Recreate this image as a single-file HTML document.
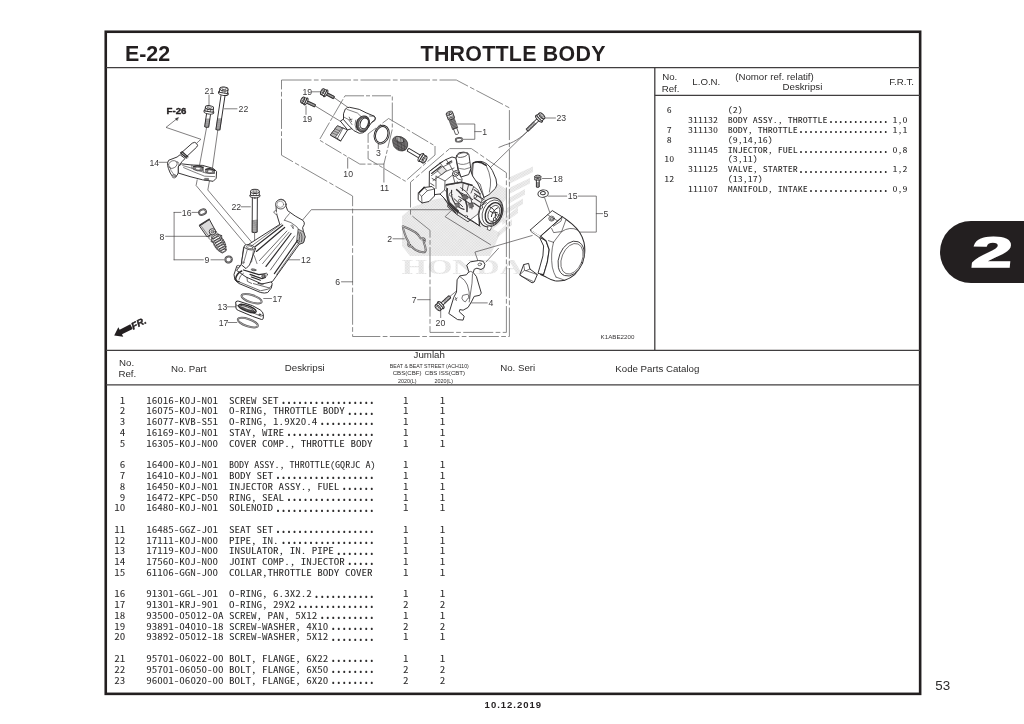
<!DOCTYPE html>
<html lang="id">
<head>
<meta charset="utf-8">
<title>E-22 THROTTLE BODY</title>
<style>
html,body{margin:0;padding:0;background:#fff;}
body{width:1024px;height:724px;overflow:hidden;position:relative;}
svg{position:absolute;left:0;top:0;display:block;will-change:transform;}
text{white-space:pre;}
</style>
</head>
<body>
<svg width="1024" height="724" viewBox="0 0 1024 724">
<rect width="1024" height="724" fill="#fff"/>
<g id="frame" fill="none" stroke="#231f20">
<rect x="105.75" y="31.75" width="814.4" height="662.1" stroke-width="2.6"/>
<g stroke="#403e3f" stroke-width="1.3">
<path d="M106 67.7H920"/>
<path d="M654.8 67.7V350.4"/>
<path d="M654.8 95.3H920"/>
<path d="M106 350.4H920"/>
<path d="M106 384.9H920"/>
</g></g>
<g id="titles" font-family="'Liberation Sans', Arial, sans-serif" font-weight="bold" fill="#231f20">
<text x="124.9" y="61.1" font-size="21.4">E-22</text>
<text x="420.6" y="61.2" font-size="21.4" letter-spacing="0.25">THROTTLE BODY</text>
<text x="484.6" y="708.1" font-size="9.5" letter-spacing="1.0">10.12.2019</text>
</g>
<text x="935.2" y="690.1" font-family="'Liberation Sans', Arial, sans-serif" font-size="13.4" fill="#2e2d2d">53</text>
<g id="tab">
<path d="M1024 221H971a31 31 0 0 0 0 62H1024Z" fill="#231f20"/>
<text transform="translate(970.4 267.2) scale(1.72 1) skewX(-3)" font-family="'Liberation Sans', Arial, sans-serif" font-weight="bold" font-size="42.6" fill="#fff" stroke="#fff" stroke-width="1.7" stroke-linejoin="miter">2</text>
</g>
<g id="hdr" font-family="'Liberation Sans', Arial, sans-serif" font-size="9.7" fill="#2e2d2d">
<text x="662.2" y="80.4">No.</text>
<text x="661.7" y="91.5">Ref.</text>
<text x="692.3" y="85.3">L.O.N.</text>
<text x="735.2" y="79.8">(Nomor ref. relatif)</text>
<text x="782.5" y="90.1">Deskripsi</text>
<text x="889.2" y="85.3">F.R.T.</text>
<text x="119.0" y="366.0">No.</text>
<text x="118.4" y="377.2">Ref.</text>
<text x="171.0" y="371.8">No. Part</text>
<text x="284.8" y="370.9">Deskripsi</text>
<text x="413.6" y="358.2">Jumlah</text>
<text x="500.2" y="370.9">No. Seri</text>
<text x="615.3" y="371.8">Kode Parts Catalog</text>
</g>
<g id="hdr-small" font-family="'Liberation Sans', Arial, sans-serif" font-size="5.4" fill="#2e2d2d" text-anchor="middle">
<text x="429.3" y="367.9" textLength="79" lengthAdjust="spacingAndGlyphs">BEAT &amp; BEAT STREET (ACH110)</text>
<text x="428.9" y="375.3" textLength="72.4" lengthAdjust="spacingAndGlyphs">CBS(CBF)  CBS ISS(CBT)</text>
<text x="407.2" y="382.6">2020(L)</text>
<text x="443.7" y="382.6">2020(L)</text>
</g>
<g id="parts" font-family="'Noto Sans Mono CJK JP', 'DejaVu Sans Mono', 'Liberation Mono', monospace" font-size="8.9" fill="#2e2d2d">
<text x="125.3" y="403.6" text-anchor="end" textLength="5.52" lengthAdjust="spacingAndGlyphs">1</text>
<text x="146.2" y="403.6" textLength="71.81" lengthAdjust="spacingAndGlyphs">16016-K0J-N01</text>
<text x="228.9" y="403.6" textLength="49.72" lengthAdjust="spacingAndGlyphs">SCREW SET</text>
<text x="280.72" y="403.9" textLength="93.91" lengthAdjust="spacingAndGlyphs" font-weight="bold" font-size="11.6">.................</text>
<text x="405.8" y="403.6" text-anchor="middle" textLength="5.52" lengthAdjust="spacingAndGlyphs">1</text>
<text x="442.6" y="403.6" text-anchor="middle" textLength="5.52" lengthAdjust="spacingAndGlyphs">1</text>
<text x="125.3" y="414.37" text-anchor="end" textLength="5.52" lengthAdjust="spacingAndGlyphs">2</text>
<text x="146.2" y="414.37" textLength="71.81" lengthAdjust="spacingAndGlyphs">16075-K0J-N01</text>
<text x="228.9" y="414.37" textLength="116.0" lengthAdjust="spacingAndGlyphs">O-RING, THROTTLE BODY</text>
<text x="347.0" y="414.67" textLength="27.62" lengthAdjust="spacingAndGlyphs" font-weight="bold" font-size="11.6">.....</text>
<text x="405.8" y="414.37" text-anchor="middle" textLength="5.52" lengthAdjust="spacingAndGlyphs">1</text>
<text x="442.6" y="414.37" text-anchor="middle" textLength="5.52" lengthAdjust="spacingAndGlyphs">1</text>
<text x="125.3" y="425.13" text-anchor="end" textLength="5.52" lengthAdjust="spacingAndGlyphs">3</text>
<text x="146.2" y="425.13" textLength="71.81" lengthAdjust="spacingAndGlyphs">16077-KVB-S51</text>
<text x="228.9" y="425.13" textLength="88.38" lengthAdjust="spacingAndGlyphs">O-RING, 1.9X20.4</text>
<text x="319.38" y="425.43" textLength="55.24" lengthAdjust="spacingAndGlyphs" font-weight="bold" font-size="11.6">..........</text>
<text x="405.8" y="425.13" text-anchor="middle" textLength="5.52" lengthAdjust="spacingAndGlyphs">1</text>
<text x="442.6" y="425.13" text-anchor="middle" textLength="5.52" lengthAdjust="spacingAndGlyphs">1</text>
<text x="125.3" y="435.9" text-anchor="end" textLength="5.52" lengthAdjust="spacingAndGlyphs">4</text>
<text x="146.2" y="435.9" textLength="71.81" lengthAdjust="spacingAndGlyphs">16169-K0J-N01</text>
<text x="228.9" y="435.9" textLength="55.24" lengthAdjust="spacingAndGlyphs">STAY, WIRE</text>
<text x="286.24" y="436.2" textLength="88.38" lengthAdjust="spacingAndGlyphs" font-weight="bold" font-size="11.6">................</text>
<text x="405.8" y="435.9" text-anchor="middle" textLength="5.52" lengthAdjust="spacingAndGlyphs">1</text>
<text x="442.6" y="435.9" text-anchor="middle" textLength="5.52" lengthAdjust="spacingAndGlyphs">1</text>
<text x="125.3" y="446.67" text-anchor="end" textLength="5.52" lengthAdjust="spacingAndGlyphs">5</text>
<text x="146.2" y="446.67" textLength="71.81" lengthAdjust="spacingAndGlyphs">16305-K0J-N00</text>
<text x="228.9" y="446.67" textLength="143.62" lengthAdjust="spacingAndGlyphs">COVER COMP., THROTTLE BODY</text>
<text x="405.8" y="446.67" text-anchor="middle" textLength="5.52" lengthAdjust="spacingAndGlyphs">1</text>
<text x="442.6" y="446.67" text-anchor="middle" textLength="5.52" lengthAdjust="spacingAndGlyphs">1</text>
<text x="125.3" y="468.2" text-anchor="end" textLength="5.52" lengthAdjust="spacingAndGlyphs">6</text>
<text x="146.2" y="468.2" textLength="71.81" lengthAdjust="spacingAndGlyphs">16400-K0J-N01</text>
<text x="228.9" y="468.2" textLength="146.6" lengthAdjust="spacingAndGlyphs">BODY ASSY., THROTTLE(GQRJC A)</text>
<text x="405.8" y="468.2" text-anchor="middle" textLength="5.52" lengthAdjust="spacingAndGlyphs">1</text>
<text x="442.6" y="468.2" text-anchor="middle" textLength="5.52" lengthAdjust="spacingAndGlyphs">1</text>
<text x="125.3" y="478.97" text-anchor="end" textLength="5.52" lengthAdjust="spacingAndGlyphs">7</text>
<text x="146.2" y="478.97" textLength="71.81" lengthAdjust="spacingAndGlyphs">16410-K0J-N01</text>
<text x="228.9" y="478.97" textLength="44.19" lengthAdjust="spacingAndGlyphs">BODY SET</text>
<text x="275.19" y="479.27" textLength="99.43" lengthAdjust="spacingAndGlyphs" font-weight="bold" font-size="11.6">..................</text>
<text x="405.8" y="478.97" text-anchor="middle" textLength="5.52" lengthAdjust="spacingAndGlyphs">1</text>
<text x="442.6" y="478.97" text-anchor="middle" textLength="5.52" lengthAdjust="spacingAndGlyphs">1</text>
<text x="125.3" y="489.74" text-anchor="end" textLength="5.52" lengthAdjust="spacingAndGlyphs">8</text>
<text x="146.2" y="489.74" textLength="71.81" lengthAdjust="spacingAndGlyphs">16450-K0J-N01</text>
<text x="228.9" y="489.74" textLength="110.48" lengthAdjust="spacingAndGlyphs">INJECTOR ASSY., FUEL</text>
<text x="341.48" y="490.04" textLength="33.14" lengthAdjust="spacingAndGlyphs" font-weight="bold" font-size="11.6">......</text>
<text x="405.8" y="489.74" text-anchor="middle" textLength="5.52" lengthAdjust="spacingAndGlyphs">1</text>
<text x="442.6" y="489.74" text-anchor="middle" textLength="5.52" lengthAdjust="spacingAndGlyphs">1</text>
<text x="125.3" y="500.5" text-anchor="end" textLength="5.52" lengthAdjust="spacingAndGlyphs">9</text>
<text x="146.2" y="500.5" textLength="71.81" lengthAdjust="spacingAndGlyphs">16472-KPC-D50</text>
<text x="228.9" y="500.5" textLength="55.24" lengthAdjust="spacingAndGlyphs">RING, SEAL</text>
<text x="286.24" y="500.8" textLength="88.38" lengthAdjust="spacingAndGlyphs" font-weight="bold" font-size="11.6">................</text>
<text x="405.8" y="500.5" text-anchor="middle" textLength="5.52" lengthAdjust="spacingAndGlyphs">1</text>
<text x="442.6" y="500.5" text-anchor="middle" textLength="5.52" lengthAdjust="spacingAndGlyphs">1</text>
<text x="125.3" y="511.27" text-anchor="end" textLength="11.05" lengthAdjust="spacingAndGlyphs">10</text>
<text x="146.2" y="511.27" textLength="71.81" lengthAdjust="spacingAndGlyphs">16480-K0J-N01</text>
<text x="228.9" y="511.27" textLength="44.19" lengthAdjust="spacingAndGlyphs">SOLENOID</text>
<text x="275.19" y="511.57" textLength="99.43" lengthAdjust="spacingAndGlyphs" font-weight="bold" font-size="11.6">..................</text>
<text x="405.8" y="511.27" text-anchor="middle" textLength="5.52" lengthAdjust="spacingAndGlyphs">1</text>
<text x="442.6" y="511.27" text-anchor="middle" textLength="5.52" lengthAdjust="spacingAndGlyphs">1</text>
<text x="125.3" y="532.8" text-anchor="end" textLength="11.05" lengthAdjust="spacingAndGlyphs">11</text>
<text x="146.2" y="532.8" textLength="71.81" lengthAdjust="spacingAndGlyphs">16485-GGZ-J01</text>
<text x="228.9" y="532.8" textLength="44.19" lengthAdjust="spacingAndGlyphs">SEAT SET</text>
<text x="275.19" y="533.1" textLength="99.43" lengthAdjust="spacingAndGlyphs" font-weight="bold" font-size="11.6">..................</text>
<text x="405.8" y="532.8" text-anchor="middle" textLength="5.52" lengthAdjust="spacingAndGlyphs">1</text>
<text x="442.6" y="532.8" text-anchor="middle" textLength="5.52" lengthAdjust="spacingAndGlyphs">1</text>
<text x="125.3" y="543.57" text-anchor="end" textLength="11.05" lengthAdjust="spacingAndGlyphs">12</text>
<text x="146.2" y="543.57" textLength="71.81" lengthAdjust="spacingAndGlyphs">17111-K0J-N00</text>
<text x="228.9" y="543.57" textLength="49.72" lengthAdjust="spacingAndGlyphs">PIPE, IN.</text>
<text x="280.72" y="543.87" textLength="93.91" lengthAdjust="spacingAndGlyphs" font-weight="bold" font-size="11.6">.................</text>
<text x="405.8" y="543.57" text-anchor="middle" textLength="5.52" lengthAdjust="spacingAndGlyphs">1</text>
<text x="442.6" y="543.57" text-anchor="middle" textLength="5.52" lengthAdjust="spacingAndGlyphs">1</text>
<text x="125.3" y="554.34" text-anchor="end" textLength="11.05" lengthAdjust="spacingAndGlyphs">13</text>
<text x="146.2" y="554.34" textLength="71.81" lengthAdjust="spacingAndGlyphs">17119-K0J-N00</text>
<text x="228.9" y="554.34" textLength="104.96" lengthAdjust="spacingAndGlyphs">INSULATOR, IN. PIPE</text>
<text x="335.96" y="554.64" textLength="38.67" lengthAdjust="spacingAndGlyphs" font-weight="bold" font-size="11.6">.......</text>
<text x="405.8" y="554.34" text-anchor="middle" textLength="5.52" lengthAdjust="spacingAndGlyphs">1</text>
<text x="442.6" y="554.34" text-anchor="middle" textLength="5.52" lengthAdjust="spacingAndGlyphs">1</text>
<text x="125.3" y="565.11" text-anchor="end" textLength="11.05" lengthAdjust="spacingAndGlyphs">14</text>
<text x="146.2" y="565.11" textLength="71.81" lengthAdjust="spacingAndGlyphs">17560-K0J-N00</text>
<text x="228.9" y="565.11" textLength="116.0" lengthAdjust="spacingAndGlyphs">JOINT COMP., INJECTOR</text>
<text x="347.0" y="565.41" textLength="27.62" lengthAdjust="spacingAndGlyphs" font-weight="bold" font-size="11.6">.....</text>
<text x="405.8" y="565.11" text-anchor="middle" textLength="5.52" lengthAdjust="spacingAndGlyphs">1</text>
<text x="442.6" y="565.11" text-anchor="middle" textLength="5.52" lengthAdjust="spacingAndGlyphs">1</text>
<text x="125.3" y="575.87" text-anchor="end" textLength="11.05" lengthAdjust="spacingAndGlyphs">15</text>
<text x="146.2" y="575.87" textLength="71.81" lengthAdjust="spacingAndGlyphs">61106-GGN-J00</text>
<text x="228.9" y="575.87" textLength="143.62" lengthAdjust="spacingAndGlyphs">COLLAR,THROTTLE BODY COVER</text>
<text x="405.8" y="575.87" text-anchor="middle" textLength="5.52" lengthAdjust="spacingAndGlyphs">1</text>
<text x="442.6" y="575.87" text-anchor="middle" textLength="5.52" lengthAdjust="spacingAndGlyphs">1</text>
<text x="125.3" y="597.41" text-anchor="end" textLength="11.05" lengthAdjust="spacingAndGlyphs">16</text>
<text x="146.2" y="597.41" textLength="71.81" lengthAdjust="spacingAndGlyphs">91301-GGL-J01</text>
<text x="228.9" y="597.41" textLength="82.86" lengthAdjust="spacingAndGlyphs">O-RING, 6.3X2.2</text>
<text x="313.86" y="597.71" textLength="60.76" lengthAdjust="spacingAndGlyphs" font-weight="bold" font-size="11.6">...........</text>
<text x="405.8" y="597.41" text-anchor="middle" textLength="5.52" lengthAdjust="spacingAndGlyphs">1</text>
<text x="442.6" y="597.41" text-anchor="middle" textLength="5.52" lengthAdjust="spacingAndGlyphs">1</text>
<text x="125.3" y="608.17" text-anchor="end" textLength="11.05" lengthAdjust="spacingAndGlyphs">17</text>
<text x="146.2" y="608.17" textLength="71.81" lengthAdjust="spacingAndGlyphs">91301-KRJ-901</text>
<text x="228.9" y="608.17" textLength="66.29" lengthAdjust="spacingAndGlyphs">O-RING, 29X2</text>
<text x="297.29" y="608.47" textLength="77.34" lengthAdjust="spacingAndGlyphs" font-weight="bold" font-size="11.6">..............</text>
<text x="405.8" y="608.17" text-anchor="middle" textLength="5.52" lengthAdjust="spacingAndGlyphs">2</text>
<text x="442.6" y="608.17" text-anchor="middle" textLength="5.52" lengthAdjust="spacingAndGlyphs">2</text>
<text x="125.3" y="618.94" text-anchor="end" textLength="11.05" lengthAdjust="spacingAndGlyphs">18</text>
<text x="146.2" y="618.94" textLength="77.34" lengthAdjust="spacingAndGlyphs">93500-05012-0A</text>
<text x="228.9" y="618.94" textLength="88.38" lengthAdjust="spacingAndGlyphs">SCREW, PAN, 5X12</text>
<text x="319.38" y="619.24" textLength="55.24" lengthAdjust="spacingAndGlyphs" font-weight="bold" font-size="11.6">..........</text>
<text x="405.8" y="618.94" text-anchor="middle" textLength="5.52" lengthAdjust="spacingAndGlyphs">1</text>
<text x="442.6" y="618.94" text-anchor="middle" textLength="5.52" lengthAdjust="spacingAndGlyphs">1</text>
<text x="125.3" y="629.71" text-anchor="end" textLength="11.05" lengthAdjust="spacingAndGlyphs">19</text>
<text x="146.2" y="629.71" textLength="77.34" lengthAdjust="spacingAndGlyphs">93891-04010-18</text>
<text x="228.9" y="629.71" textLength="99.43" lengthAdjust="spacingAndGlyphs">SCREW-WASHER, 4X10</text>
<text x="330.43" y="630.01" textLength="44.19" lengthAdjust="spacingAndGlyphs" font-weight="bold" font-size="11.6">........</text>
<text x="405.8" y="629.71" text-anchor="middle" textLength="5.52" lengthAdjust="spacingAndGlyphs">2</text>
<text x="442.6" y="629.71" text-anchor="middle" textLength="5.52" lengthAdjust="spacingAndGlyphs">2</text>
<text x="125.3" y="640.47" text-anchor="end" textLength="11.05" lengthAdjust="spacingAndGlyphs">20</text>
<text x="146.2" y="640.47" textLength="77.34" lengthAdjust="spacingAndGlyphs">93892-05012-18</text>
<text x="228.9" y="640.47" textLength="99.43" lengthAdjust="spacingAndGlyphs">SCREW-WASHER, 5X12</text>
<text x="330.43" y="640.77" textLength="44.19" lengthAdjust="spacingAndGlyphs" font-weight="bold" font-size="11.6">........</text>
<text x="405.8" y="640.47" text-anchor="middle" textLength="5.52" lengthAdjust="spacingAndGlyphs">1</text>
<text x="442.6" y="640.47" text-anchor="middle" textLength="5.52" lengthAdjust="spacingAndGlyphs">1</text>
<text x="125.3" y="662.01" text-anchor="end" textLength="11.05" lengthAdjust="spacingAndGlyphs">21</text>
<text x="146.2" y="662.01" textLength="77.34" lengthAdjust="spacingAndGlyphs">95701-06022-00</text>
<text x="228.9" y="662.01" textLength="99.43" lengthAdjust="spacingAndGlyphs">BOLT, FLANGE, 6X22</text>
<text x="330.43" y="662.31" textLength="44.19" lengthAdjust="spacingAndGlyphs" font-weight="bold" font-size="11.6">........</text>
<text x="405.8" y="662.01" text-anchor="middle" textLength="5.52" lengthAdjust="spacingAndGlyphs">1</text>
<text x="442.6" y="662.01" text-anchor="middle" textLength="5.52" lengthAdjust="spacingAndGlyphs">1</text>
<text x="125.3" y="672.78" text-anchor="end" textLength="11.05" lengthAdjust="spacingAndGlyphs">22</text>
<text x="146.2" y="672.78" textLength="77.34" lengthAdjust="spacingAndGlyphs">95701-06050-00</text>
<text x="228.9" y="672.78" textLength="99.43" lengthAdjust="spacingAndGlyphs">BOLT, FLANGE, 6X50</text>
<text x="330.43" y="673.08" textLength="44.19" lengthAdjust="spacingAndGlyphs" font-weight="bold" font-size="11.6">........</text>
<text x="405.8" y="672.78" text-anchor="middle" textLength="5.52" lengthAdjust="spacingAndGlyphs">2</text>
<text x="442.6" y="672.78" text-anchor="middle" textLength="5.52" lengthAdjust="spacingAndGlyphs">2</text>
<text x="125.3" y="683.54" text-anchor="end" textLength="11.05" lengthAdjust="spacingAndGlyphs">23</text>
<text x="146.2" y="683.54" textLength="77.34" lengthAdjust="spacingAndGlyphs">96001-06020-00</text>
<text x="228.9" y="683.54" textLength="99.43" lengthAdjust="spacingAndGlyphs">BOLT, FLANGE, 6X20</text>
<text x="330.43" y="683.84" textLength="44.19" lengthAdjust="spacingAndGlyphs" font-weight="bold" font-size="11.6">........</text>
<text x="405.8" y="683.54" text-anchor="middle" textLength="5.52" lengthAdjust="spacingAndGlyphs">2</text>
<text x="442.6" y="683.54" text-anchor="middle" textLength="5.52" lengthAdjust="spacingAndGlyphs">2</text>
</g>
<g id="lon" font-family="'Noto Sans Mono CJK JP', 'DejaVu Sans Mono', 'Liberation Mono', monospace" font-size="8.2" fill="#2e2d2d">
<text x="669.3" y="113.2" text-anchor="middle" textLength="4.99" lengthAdjust="spacingAndGlyphs">6</text>
<text x="727.8" y="113.2" textLength="14.97" lengthAdjust="spacingAndGlyphs">(2)</text>
<text x="688.0" y="123.05" textLength="29.94" lengthAdjust="spacingAndGlyphs">311132</text>
<text x="727.8" y="123.05" textLength="99.8" lengthAdjust="spacingAndGlyphs">BODY ASSY., THROTTLE</text>
<text x="828.4" y="123.35" textLength="59.88" lengthAdjust="spacingAndGlyphs" font-weight="bold" font-size="10.8">............</text>
<text x="892.47" y="123.05" textLength="14.97" lengthAdjust="spacingAndGlyphs">1,0</text>
<text x="669.3" y="132.9" text-anchor="middle" textLength="4.99" lengthAdjust="spacingAndGlyphs">7</text>
<text x="688.0" y="132.9" textLength="29.94" lengthAdjust="spacingAndGlyphs">311130</text>
<text x="727.8" y="132.9" textLength="69.86" lengthAdjust="spacingAndGlyphs">BODY, THROTTLE</text>
<text x="798.46" y="133.2" textLength="89.82" lengthAdjust="spacingAndGlyphs" font-weight="bold" font-size="10.8">..................</text>
<text x="892.47" y="132.9" textLength="14.97" lengthAdjust="spacingAndGlyphs">1,1</text>
<text x="669.3" y="142.75" text-anchor="middle" textLength="4.99" lengthAdjust="spacingAndGlyphs">8</text>
<text x="727.8" y="142.75" textLength="44.91" lengthAdjust="spacingAndGlyphs">(9,14,16)</text>
<text x="688.0" y="152.6" textLength="29.94" lengthAdjust="spacingAndGlyphs">311145</text>
<text x="727.8" y="152.6" textLength="69.86" lengthAdjust="spacingAndGlyphs">INJECTOR, FUEL</text>
<text x="798.46" y="152.9" textLength="89.82" lengthAdjust="spacingAndGlyphs" font-weight="bold" font-size="10.8">..................</text>
<text x="892.47" y="152.6" textLength="14.97" lengthAdjust="spacingAndGlyphs">0,8</text>
<text x="669.3" y="162.45" text-anchor="middle" textLength="9.98" lengthAdjust="spacingAndGlyphs">10</text>
<text x="727.8" y="162.45" textLength="29.94" lengthAdjust="spacingAndGlyphs">(3,11)</text>
<text x="688.0" y="172.3" textLength="29.94" lengthAdjust="spacingAndGlyphs">311125</text>
<text x="727.8" y="172.3" textLength="69.86" lengthAdjust="spacingAndGlyphs">VALVE, STARTER</text>
<text x="798.46" y="172.6" textLength="89.82" lengthAdjust="spacingAndGlyphs" font-weight="bold" font-size="10.8">..................</text>
<text x="892.47" y="172.3" textLength="14.97" lengthAdjust="spacingAndGlyphs">1,2</text>
<text x="669.3" y="182.15" text-anchor="middle" textLength="9.98" lengthAdjust="spacingAndGlyphs">12</text>
<text x="727.8" y="182.15" textLength="34.93" lengthAdjust="spacingAndGlyphs">(13,17)</text>
<text x="688.0" y="192.0" textLength="29.94" lengthAdjust="spacingAndGlyphs">111107</text>
<text x="727.8" y="192.0" textLength="79.84" lengthAdjust="spacingAndGlyphs">MANIFOLD, INTAKE</text>
<text x="808.44" y="192.3" textLength="79.84" lengthAdjust="spacingAndGlyphs" font-weight="bold" font-size="10.8">................</text>
<text x="892.47" y="192.0" textLength="14.97" lengthAdjust="spacingAndGlyphs">0,9</text>
</g>
<g id="diagram" fill="#fff" stroke="#2e2c2d" stroke-width="0.95" stroke-linejoin="round" stroke-linecap="round">
<defs><pattern id="ht" width="2" height="2" patternUnits="userSpaceOnUse" patternTransform="rotate(45)"><rect x="0.3" y="0.3" width="1.15" height="1.15" fill="#b9b8b8" stroke="none"/></pattern></defs><g fill="url(#ht)" stroke="none"><path d="M402 216L413 207L432 200L470 192L497 183L506 189L506 199L498 208L506 211L503 221L493 229L500 233L496 243L490 256H410L402 246Z"/><path d="M508 178L533 166.6V172L509 184ZM509 188L530 178V183.6L509 194ZM509 198L525 189V194.6L508 204ZM507 208L523 198.6V204L506 214ZM503 219L518 207V213L502 225ZM498 232L512 219V225L497 238Z"/></g><text x="401.4" y="273.6" font-family="'Liberation Serif', 'Times New Roman', serif" font-weight="bold" font-size="22" textLength="122" lengthAdjust="spacingAndGlyphs" fill="url(#ht)" stroke="none">HONDA</text>
<g fill="none" stroke="#6b6b6b" stroke-width="0.8" stroke-linecap="butt" stroke-dasharray="30 2.4 4.7 2.4">
<path d="M281.5 80H456.3L509.4 107.8V336.5H352.6V196L281.5 155.2Z" fill="none"/>
<path d="M449.7 148.6H471.4L506.4 172.8V332.4H430V230.3L410.5 214.6V182.2Z" fill="none"/>
</g>
<g fill="none" stroke="#6b6b6b" stroke-width="0.8" stroke-linecap="butt" stroke-dasharray="19 2 4 2">
<path d="M345 95.8H392.3V129.2L383.9 164.1H359.8L319.3 140Z" fill="none"/>
<path d="M388.6 118.5L435 145.9V155L405.3 181.2L368.1 158.9V133.9Z" fill="none"/>
</g>
<g fill="none" stroke="#4a4849" stroke-width="0.7">
<path d="M206.6 127.4L199.4 166M197.2 179.8L196.1 185.5L246.5 245.5M217.8 130.2L212.4 168.4M209.4 181.3L207.8 190L268 261.6M254.6 232V247M176.6 119L166 127.4L200.9 139.3L197.3 142.6M209 95V105M224.5 108.8H237M159 162.3H168.2M241.3 206.8H250.4M174.1 212.4V259.8M174.1 212.4H181M174.1 259.8H203.4M165.6 236.3H208.8M192 212.4H197.6M211 259.8H223.6M263.7 298.5H271.5M227.2 306.8H236.8M227.9 322.5H236.8M287.8 259.8H299.7M302.4 220.2L311.3 209.7H450M341.5 281.8H352.6M393 238.8H404.2M417.6 299.7H430M440.7 311V317.6M450.1 296.3L456.8 290.7M471.6 302.9H487.3M312 91.8H321M306 106V114.4M334.2 97.7L348.7 107.9M315.3 106L341.2 121.8M347.7 158V168.2M378.3 143.2V148.7M383.9 164.1V182.1M457.6 124H474.8V139.3H463.2M474.8 131.6H481.3M544.6 118H555.5M527.6 131.1L479.7 178M528.4 130.6C521 138 512 143.4 505.3 144.8L498.9 147.4M542.5 178.5H551.8M548.1 196.1H566.7M578.3 196.1H596.3V232.1H579.5M596.3 213.6H602.6M544.6 197.8L549.7 212.3M532.2 235.5L474.9 252.1L478 261M498.5 248.3L486 262M452.8 209L445.1 216.7L490.5 244.7" fill="none"/>
</g>
<path d="M178.3 117.6L175.3 118.7L177 120.4Z" fill="#2e2c2d" stroke-width="0.4"/>
<path d="M236.7 266.4L234 274.5L234.9 279.9L239 283.5L260.5 292.5Q264.6 293.6 267.7 292.5L271.3 288L272.2 283.5L270 279.9L262 275L246 266Z" fill="#fff"/><path d="M243.9 247.4L279.8 224.4L276.5 213.6L276.1 207.8Q275.6 199.6 281 199.2Q286.2 199.6 286 206.1L287.7 210.7L295.2 216L302.6 220.2Q304.8 222 304.3 224.3L302.6 227.7L303.5 231.8L305.1 236.8L303.5 242.6L299.3 244.2L272.4 281.6L262 284L246 277L236.6 270.4L241.2 264.6Z" fill="#fff"/><path d="M298.5 229.3L303.5 231.8L305.1 236.8L303.5 242.6L299.3 244.2L296.8 241.8Z" fill="#bdbcbc" stroke-width="0.7"/><path d="M300.6 232.6Q303 236 301.4 241.6M298.8 232Q300.6 236.6 299 241" fill="none" stroke-width="0.7"/><path d="M282.7 225.2L252.6 248.6M284.6 227.4L256.4 251.4" fill="none" stroke-width="1.25"/><path d="M281.6 223.8L251 246.4" fill="none" stroke-width="0.6"/><path d="M286.9 231L259.4 260.6M294.6 236L270.4 270" fill="none" stroke-width="0.7"/><path d="M291 233.5L266 266.4M297.6 240.4L274.4 273.6" fill="none" stroke-width="1.2"/><path d="M289 232.2L262.6 263.6M299.6 241.4L276.6 274.6" fill="none" stroke-width="0.6"/><path d="M284.4 220.2L291 222.6L296.8 226.8L298.5 229.3M291 225.4L293.4 228.4M292.4 224.8Q294 226 293 228.2" fill="none" stroke-width="0.65"/><path d="M289.4 213.6L286 217.7L284.4 220.2" fill="none" stroke-width="0.6"/><path d="M276.4 211.2L275.3 210.7L273.6 211.9L275.7 214.4L277 214" fill="#fff" stroke-width="0.65"/><ellipse cx="280.8" cy="204.3" rx="5.2" ry="4.7" fill="#fff" stroke-width="0.8"/><ellipse cx="279.9" cy="204.3" rx="2.3" ry="2.1" fill="#fff" stroke-width="0.7"/><ellipse cx="280.3" cy="204.3" rx="3.4" ry="3.1" fill="#fff" stroke-width="0.4"/><path d="M244 247.2L241.2 264.6L246 268.6L249.5 265L255.4 249Z" fill="#fff"/><ellipse cx="249.7" cy="247.3" rx="5.7" ry="2.4" fill="#fff" stroke-width="0.8" transform="rotate(12 249.7 247.3)"/><ellipse cx="249.7" cy="247.3" rx="3.4" ry="1.3" fill="#fff" stroke-width="0.6" transform="rotate(12 249.7 247.3)"/><path d="M253.4 250.6L251.6 262M254.2 255.6L257 263.6M247.2 250L243.6 263" fill="none" stroke-width="0.6"/><path d="M241.7 271Q236.4 273.6 235.6 279Q236.8 282 239 281.6" fill="none" stroke-width="1.5"/><path d="M243.4 273.2Q239.6 275.4 239 279.4" fill="none" stroke-width="0.7"/><path d="M243.5 270L258.8 274.6L266.4 273.6" fill="none" stroke-width="1.3"/><path d="M239 281.8L260.5 290.8L268.6 289L271.8 285.4M253.4 283.6L269.5 288M247 277.4L247.4 281.4L251.6 283.4" fill="none" stroke-width="0.7"/><path d="M250 274.4L262 278.6L265.4 277.4M251.4 277L260.4 280.2" fill="none" stroke-width="1.2"/><ellipse cx="253.6" cy="269.8" rx="2.5" ry="0.9" fill="#9a9898" stroke-width="0.6" transform="rotate(8 253.6 269.8)"/><ellipse cx="263.4" cy="276.2" rx="1.7" ry="1.5" fill="#8a8889" stroke-width="0.6"/><ellipse cx="266.2" cy="274.6" rx="1.2" ry="1.6" fill="#fff" stroke-width="0.6"/><ellipse cx="238.2" cy="266.4" rx="1.5" ry="1.1" fill="#fff" stroke-width="0.6"/><ellipse cx="243.2" cy="262.6" rx="0.7" ry="1.3" fill="#fff" stroke-width="0.5"/><path d="M258 283.4Q261 284.6 263.4 284" fill="none" stroke-width="0.9"/><ellipse cx="251.6" cy="298.7" rx="10.5" ry="3.6" fill="none" stroke="#5d5b5c" stroke-width="2.0" transform="rotate(18 251.6 298.7)"/><ellipse cx="251.6" cy="298.7" rx="10.5" ry="3.6" fill="none" stroke="#d9d8d8" stroke-width="0.5" transform="rotate(18 251.6 298.7)"/><path d="M236 301.6Q237 300.6 238.8 301.2L252.6 305.7L260.2 309.9Q263.3 312 263.3 314.7V318.1Q263 319.8 261.6 319.5L252.6 316.4L238.8 310.6Q236 309.6 236 308.5Z" fill="#fff" stroke-width="1.0"/><path d="M236.3 304.9L238.8 306.6L252.6 312.6L260.9 316.2L263.2 315.2" fill="none" stroke-width="0.7"/><ellipse cx="247.4" cy="308.5" rx="9.3" ry="2.8" fill="#fff" stroke-width="1.3" transform="rotate(21 247.4 308.5)"/><ellipse cx="247.2" cy="308.7" rx="7.8" ry="1.7" fill="#e2e1e1" stroke-width="0.8" transform="rotate(21 247.2 308.7)"/><path d="M241.4 307.2Q247 310.6 253.6 311.2" fill="none" stroke="#4a4849" stroke-width="1.5"/><ellipse cx="259.8" cy="314.6" rx="1.1" ry="0.8" fill="#666" stroke-width="0.5"/><ellipse cx="247.9" cy="322.6" rx="10.5" ry="3.6" fill="none" stroke="#5d5b5c" stroke-width="2.0" transform="rotate(19 247.9 322.6)"/><ellipse cx="247.9" cy="322.6" rx="10.5" ry="3.6" fill="none" stroke="#d9d8d8" stroke-width="0.5" transform="rotate(19 247.9 322.6)"/><path d="M182 163.9 L191.9 165 L202.5 165.4 L213.2 168.4 L216.6 171.4 L216.2 178.3 L213.2 181.3 L202.5 179.8 L190 176.6 L178.2 173 L178.2 166.9Z" fill="#fff"/><path d="M182.8 165.6L192.6 168.4L205.6 173L214.7 173.4" fill="none" stroke-width="0.6"/><path d="M193.6 166.6Q198 164.6 203 167.4L202.6 170.6Q197.6 172 193.4 169.4Z" fill="#8d8b8c" stroke-width="0.6"/><path d="M205.8 169.4Q210 167.6 214.6 170.4L214.4 173Q209.6 174.6 205.6 172.4Z" fill="#8d8b8c" stroke-width="0.6"/><path d="M195.6 167.6Q198 166.6 200.8 168.2L200.6 169.6Q198 170.4 195.6 169.2Z" fill="#fff" stroke-width="0.4"/><path d="M207.8 170.4Q210 169.4 212.6 171L212.4 172.2Q210 173 207.8 172Z" fill="#fff" stroke-width="0.4"/><path d="M204.8 178.4H208.6V180.4H204.8Z" fill="#777" stroke-width="0.4"/><path d="M183.6 167.6L193 171.6L204.6 176.2L214.6 176.6M191.9 165V168.2M203 165.6L203.4 172" fill="none" stroke-width="0.6"/><path d="M193.6 166.6Q198 164.6 203 167.4M205.8 169.4Q210 167.6 214.6 170.4" fill="none" stroke-width="1.2"/><path d="M180.9 153.2L192.2 143.2Q194.8 141.4 196.6 143.4Q198.6 145.6 196.6 147.2L186.2 157Z" fill="#fff"/><path d="M169.1 160.1L177.1 157L180.1 154.7L185.1 158.5L182 161.6L178.2 166.9V173L177.1 175.4Q175.2 178.4 172.6 176.6Q170 173.6 168.4 168.4Q167.2 165.4 167.6 163Z" fill="#fff"/><ellipse cx="172.9" cy="164.4" rx="4.6" ry="3.5" fill="#fff" stroke-width="0.6" transform="rotate(-30 172.9 164.4)"/><path d="M169.6 166.6Q170.6 171 173.6 174.2M177.6 161.6Q180 163 178.4 166.6" fill="none" stroke-width="0.55"/><ellipse cx="174.2" cy="176.2" rx="2" ry="1.8" fill="#fff" stroke-width="0.6"/><ellipse cx="174.2" cy="176.2" rx="0.9" ry="0.8" fill="#fff" stroke-width="0.5"/><path d="M180.6 152.6L186.8 158.2M181.9 151.5L188 157" fill="none" stroke-width="1.1"/><path d="M199.7 225.6 L209.3 219.3 L216.1 231.9 L207.4 236.7Z" fill="#dcdbdb"/><path d="M199.9 225.3L209.1 219.4" fill="none" stroke="#3f3d3e" stroke-width="1.7"/><path d="M201.6 226.6L208.6 236" fill="none" stroke-width="0.5"/><path d="M211.1 236.5 L211.7 238.4 L211.2 241.5 L213.2 242.9 L214.1 245.2 L215.3 247.2 L216.8 249.2 L218.7 250.8 L220.8 252.2 L222.3 253.1 L226.1 250.9 L226 249.2 L225.9 246.6 L225.4 244.2 L224.5 241.9 L223.3 239.9 L221.8 237.9 L221.6 235.5 L218.7 234.4 L217.3 232.9Z" fill="#efeeee" stroke-width="0.7"/><ellipse cx="215.2" cy="236.4" rx="4" ry="1.1" fill="#cfcece" stroke="#3f3d3e" stroke-width="0.85" transform="rotate(-30 215.2 236.4)"/><ellipse cx="216.4" cy="238.5" rx="6" ry="1.1" fill="#fff" stroke="#3f3d3e" stroke-width="0.85" transform="rotate(-30 216.4 238.5)"/><ellipse cx="217.5" cy="240.4" rx="5" ry="1.1" fill="#cfcece" stroke="#3f3d3e" stroke-width="0.85" transform="rotate(-30 217.5 240.4)"/><ellipse cx="218.7" cy="242.5" rx="5.3" ry="1.1" fill="#fff" stroke="#3f3d3e" stroke-width="0.85" transform="rotate(-30 218.7 242.5)"/><ellipse cx="219.9" cy="244.6" rx="5.3" ry="1.1" fill="#cfcece" stroke="#3f3d3e" stroke-width="0.85" transform="rotate(-30 219.9 244.6)"/><ellipse cx="221.1" cy="246.7" rx="5" ry="1.1" fill="#fff" stroke="#3f3d3e" stroke-width="0.85" transform="rotate(-30 221.1 246.7)"/><ellipse cx="222.3" cy="248.7" rx="4.2" ry="1.1" fill="#cfcece" stroke="#3f3d3e" stroke-width="0.85" transform="rotate(-30 222.3 248.7)"/><ellipse cx="223.4" cy="250.7" rx="3" ry="1.1" fill="#fff" stroke="#3f3d3e" stroke-width="0.85" transform="rotate(-30 223.4 250.7)"/><ellipse cx="212.5" cy="231.7" rx="3.3" ry="3" fill="#fff" stroke="#3f3d3e" stroke-width="1.0"/><ellipse cx="212.5" cy="231.7" rx="1.7" ry="1.5" fill="#a8a6a7" stroke-width="0.5"/><path d="M210.2 234.4L208.6 238.2L210.4 239.6" fill="none" stroke-width="0.7"/><path d="M330.5 134.7 L337.4 125.8 L347.6 129.9 L340.8 140.8Z" fill="#fff"/><path d="M330.5 134.7 L337.4 125.8 L342.2 127.8 L335.4 137.2Z" fill="#b9b8b8" stroke-width="0.6"/><path d="M332 132.8L337 135M333.6 130.8L338.4 133M335 128.8L340 131" fill="none" stroke-width="0.5"/><path d="M335.4 137.2L340.8 140.8M343 128L337.4 138.6" fill="none" stroke-width="0.7"/><path d="M340.6 121.4L347.6 129.9L352 128.6L346 118Z" fill="#fff"/><path d="M345.6 108.7Q347.4 107 349.7 107.3L359.3 109.4L366.1 112.8L374.3 116.2Q375.8 118 375 119.6L371.6 122.4L366.1 130.6Q363 133.6 359.3 133.3L353.8 130.6L348.3 125.1L343.5 119.6V114.2Z" fill="#fff"/><path d="M347 109.4L357.4 113L362 117.4M343.8 117L348.6 119.6L352 124.6" fill="none" stroke-width="0.6"/><path d="M349.2 117.2L351.6 121.6M349.4 119.8L352 119.2" fill="none" stroke-width="0.7"/><ellipse cx="362.9" cy="123.8" rx="6.4" ry="8.1" fill="#6f6d6e" stroke-width="0.9" transform="rotate(22 362.9 123.8)"/><ellipse cx="363.6" cy="123.6" rx="4.9" ry="6.5" fill="#fff" stroke-width="0.6" transform="rotate(22 363.6 123.6)"/><ellipse cx="364.2" cy="123.4" rx="3.9" ry="5.5" fill="#fff" stroke-width="1.1" transform="rotate(22 364.2 123.4)"/><path d="M357.4 119.4Q355.6 124 358 129.6M355.6 120.2Q354 124.6 356.4 130" fill="none" stroke-width="0.6"/><path d="M369.6 116L374.3 116.2Q376.4 118 375 120.4L371.8 122.6" fill="none" stroke-width="0.7"/><path d="M392.6 141.4Q392 137.4 396.4 136.4Q401.6 135.6 405.6 139.4Q408.6 142.4 407.6 146.4Q406.6 150.6 402.4 151Q397 151 394 146.6Z" fill="#6e6c6d" stroke-width="0.7"/><ellipse cx="399.6" cy="139.6" rx="4.6" ry="2.4" fill="#a5a4a4" stroke-width="0.6" transform="rotate(28 399.6 139.6)"/><path d="M393.4 143L405 149.8M394.6 140.6L406.8 147.4M396 147.4L403 150.6M397 137.6L398.6 150M400.4 137.4L402 150.6M403.6 139L404.6 149.6" fill="none" stroke="#2a2829" stroke-width="0.4"/><path d="M402.8 226.2Q409 228.4 415.5 232.4Q418.6 234.6 420.6 238.4Q421.6 238 423 238.2Q425 238.8 424.9 240.6Q424.6 242 423.8 242.6Q425.4 246 425.8 249.8Q425.4 252.6 423 252.3Q419 251.8 415.5 249.8Q413.2 248.4 411.6 246.4Q410.6 246.8 409.4 246.4Q407.6 245.4 408.4 243.2Q408.6 242.6 408.8 242.4Q405.6 237 404.3 232.4Q403 229 402.8 226.2Z" fill="none" stroke="#5a5859" stroke-width="2.0"/><path d="M402.8 226.2Q409 228.4 415.5 232.4Q418.6 234.6 420.6 238.4Q421.6 238 423 238.2Q425 238.8 424.9 240.6Q424.6 242 423.8 242.6Q425.4 246 425.8 249.8Q425.4 252.6 423 252.3Q419 251.8 415.5 249.8Q413.2 248.4 411.6 246.4Q410.6 246.8 409.4 246.4Q407.6 245.4 408.4 243.2Q408.6 242.6 408.8 242.4Q405.6 237 404.3 232.4Q403 229 402.8 226.2Z" fill="none" stroke="#d8d7d7" stroke-width="0.7"/><ellipse cx="423.1" cy="240.4" rx="0.9" ry="0.9" fill="#fff" stroke-width="0.5"/><ellipse cx="409.8" cy="244.6" rx="0.8" ry="0.8" fill="#fff" stroke-width="0.5"/><path d="M472.6 163.4Q476 160.6 481 161.4Q488 162.6 492.4 170.6L496 179L496.8 185L495.4 188.4L489 194.6L484 197.4L476 190L471.6 178Z" fill="#fff"/><path d="M473.2 162.9Q479 160.4 486.1 165.3" fill="none" stroke-width="1.5"/><path d="M475.5 180.6L480.2 184.1L482.6 192.3L483.8 197M486.1 165.3Q489.6 172 490.6 180Q490.8 186 489.4 192M473.4 164Q472.2 171 472.6 179" fill="none" stroke-width="0.65"/><path d="M429.7 171.2L440 163L446 159.5L452 157L456 158L458 170L470 168.8L472.6 176L478 184L484 197.4L480.6 200L479.4 225.6L470 220L458 211.4L448 204L444 198L440 194L434.5 194.6L434.4 189L429.6 186.6Z" fill="#fff"/><ellipse cx="491" cy="212.4" rx="11.3" ry="15.2" fill="#fff" stroke-width="0.9" transform="rotate(24 491 212.4)"/><path d="M480.6 200Q476.6 208 479.4 225.6" fill="none" stroke-width="0.7"/><ellipse cx="492.4" cy="212.8" rx="9.6" ry="13.4" fill="#fff" stroke-width="0.7" transform="rotate(24 492.4 212.8)"/><ellipse cx="493.4" cy="213.2" rx="7.6" ry="11" fill="#f1f0f0" stroke-width="1.3" transform="rotate(24 493.4 213.2)"/><ellipse cx="493.9" cy="213.4" rx="5.4" ry="8.4" fill="#fff" stroke-width="0.7" transform="rotate(24 493.9 213.4)"/><path d="M489.6 206.8Q494.6 208.8 495.6 213.6Q496 218 493 221.4M497.6 207.8Q492 211 491.4 216.6M490.4 211.6Q493.6 214 497.2 212.6" fill="none" stroke-width="1.0"/><ellipse cx="494.8" cy="219" rx="1.5" ry="1.5" fill="#fff" stroke-width="0.8"/><ellipse cx="497.6" cy="215.2" rx="1.2" ry="1.2" fill="#fff" stroke-width="0.7"/><ellipse cx="492" cy="222.4" rx="1" ry="1" fill="#fff" stroke-width="0.6"/><path d="M488.2 226L487.2 229.4L490 230.6L491.4 227.8" fill="#fff" stroke-width="0.7"/><path d="M481.6 200.6L484.4 199M482.4 202.6L485.6 200.6M483 204.8L486.4 202.6" fill="none" stroke-width="0.7"/><path d="M418.5 193L424 187.5L432 186.5L434.5 189V196L429 201.5L422 203L418.5 200Z" fill="#fff"/><path d="M422 203L421.6 196.4L418.5 193M421.6 196.4L427.4 190.6L434.5 189M427.4 190.6L424 187.5" fill="none" stroke-width="0.7"/><path d="M419.2 192.6L424.2 187.4" fill="none" stroke-width="1.5"/><path d="M456.1 158.2Q455.6 154.6 459 152.8Q463.6 151.4 467.4 152.8Q469.4 154 469.1 155.9L470.8 168.8L468.6 174.6L461 177L458.6 170Z" fill="#fff"/><ellipse cx="462.4" cy="155" rx="5.4" ry="2.1" fill="#fff" stroke-width="0.7" transform="rotate(-12 462.4 155)"/><path d="M458.6 163.6Q463 166 469.6 162.4M459.6 168.6Q464 170.6 470.4 167.6" fill="none" stroke-width="0.6"/><path d="M429.7 171.2L442.6 161.8M431.4 175.6L444.6 166L452 162.4M433 180.6L446 171.4L454 168M436 176V188.6M440 163L444.6 168.6M446 159.5L449.6 164.4L453.6 172M436.6 176.6L445 181L452.6 175M445 181L444.6 190L440 194M444.6 190L452 196" fill="none" stroke-width="0.7"/><path d="M437.6 170.4L442.6 166.4L446.6 170.4L441.6 174.6Z" fill="#e6e5e5" stroke-width="0.7"/><path d="M431.6 173.4L441 166.2M447 163.6L451.6 161" fill="none" stroke="#3a3839" stroke-width="1.3"/><path d="M430.6 183.4L434 185.6M432 178.4L435.4 180.4" fill="none" stroke-width="0.8"/><path d="M452.8 175.2L455.4 184.6L460.8 187L462.2 179L459 174.2Z" fill="#fff" stroke-width="0.7"/><ellipse cx="455.8" cy="173.5" rx="3.3" ry="2.7" fill="#fff" stroke-width="0.9" transform="rotate(-20 455.8 173.5)"/><ellipse cx="455.8" cy="173.5" rx="1.6" ry="1.3" fill="#fff" stroke-width="0.7" transform="rotate(-20 455.8 173.5)"/><path d="M456.4 177.6Q458.6 180 461.4 180M457 181.6Q459 183.6 461 183.4" fill="none" stroke-width="0.7"/><path d="M446 185.4L461.4 182.3L472 185.3L478 190L482 200L478 214L470 220L458 211.4L450 203Z" fill="#f4f3f3" stroke-width="0.7"/><path d="M446.2 184.7L461.4 182.3L472 185.3" fill="none" stroke="#3a3839" stroke-width="1.5"/><path d="M447.3 188.8Q446 196 449 203Q453 209 458 211.5" fill="none" stroke="#3a3839" stroke-width="1.6"/><path d="M451.6 190.4Q450.6 197 454.6 203Q458.6 208 464 209.4" fill="none" stroke="#3a3839" stroke-width="1.2"/><path d="M456.6 189.6Q462 193.6 465.6 200.6Q467.8 206 467 211.6" fill="none" stroke="#3a3839" stroke-width="1.5"/><path d="M460.6 187.6Q467 191 470.6 197.6Q472.6 203 472 209" fill="none" stroke="#3a3839" stroke-width="0.9"/><path d="M458.6 196.4L469.6 203.4M461.6 193L472.6 199.6M454 198.6L462.6 206.6" fill="none" stroke="#3a3839" stroke-width="1.0"/><path d="M462 195.6L466.6 194.6L468 198.6L464 200Z" fill="#6d6b6c" stroke-width="0.5"/><path d="M468.6 203.6L472.6 202.6L473.6 206.6L470 208Z" fill="#6d6b6c" stroke-width="0.5"/><path d="M455 203.6L458.6 203L459.6 206.4L456.4 207.4Z" fill="#7d7b7c" stroke-width="0.5"/><path d="M474 189.6L480.4 194M474.6 193.6L481 198M474 198L480.6 202.4M473.6 203L479.6 207" fill="none" stroke="#3a3839" stroke-width="1.1"/><path d="M463 184L462.4 190.6M468.6 184.6L467 191M473.6 187L471 193" fill="none" stroke-width="0.8"/><path d="M458 211.4L457 214.6L468 221.8L470 220M448 204L447.6 206.8L457 214.6M445 199.4L455.6 211.1L472 220.5L480.2 226.4" fill="none" stroke-width="0.8"/><path d="M448.6 205.6L456 213M450 203L458.4 211" fill="none" stroke="#3a3839" stroke-width="1.2"/><ellipse cx="459.8" cy="200.6" rx="1.3" ry="1.3" fill="#fff" stroke-width="0.7"/><ellipse cx="475.4" cy="196.4" rx="1.4" ry="1.4" fill="#fff" stroke-width="0.7"/><ellipse cx="481.4" cy="207.2" rx="1.1" ry="1.6" fill="#fff" stroke-width="0.7"/><ellipse cx="450.6" cy="194.4" rx="1.2" ry="1.6" fill="#fff" stroke-width="0.7"/><ellipse cx="466.4" cy="216.4" rx="1.2" ry="1" fill="#fff" stroke-width="0.6"/><path d="M467 264.9 L470.3 261.9 L478.6 260.5 L483.2 261.3 L484.9 264.4 L483.9 267.9 L481 269.5 L476.9 268.2 L474.2 269.3 L473.3 272.6 L476.4 276.5 L481.3 293.1 L479.7 295.3 L474.2 296.4 L471.4 301.9 L468.1 307.4 L463.1 310.2 L459.8 309.6 L459.3 311.8 L464.2 316.2 L463.1 320.1 L457.6 319.6 L448.8 313.5 L453.7 297.5 L456.5 292 L457.1 279.8 L459.8 275.9 L466.4 274.8 L468.6 272.1Z" fill="#fff"/><path d="M459.8 276.4Q465.6 280 467.4 285Q470 292 469.2 298.6M472.5 273.8L472 283.2L469.2 301.9M468.6 272.1Q470.6 270 473.3 272.6" fill="none" stroke-width="0.65"/><path d="M463.1 295.3L467.5 294.2Q469.4 296 468.6 297.5L465.3 301.9Q463 301.4 462 298.6Z" fill="#fff" stroke-width="0.65"/><path d="M455.6 297.4L456.4 300.6M455 299.6L457.2 298" fill="none" stroke-width="0.6"/><ellipse cx="479.7" cy="264.4" rx="1.8" ry="1.3" fill="#fff" stroke-width="0.6" transform="rotate(-15 479.7 264.4)"/><path d="M519.9 274.6L523.7 264.6L528.6 263.4L529.9 269L537.3 274.6L534.2 282L532.4 282.7Z" fill="#fff"/><path d="M519.9 274.6L524.6 270.2L537.3 274.6M521 276L533 281.4M524.6 270.2L523.7 264.6M529.9 269L526 270.8" fill="none" stroke-width="0.65"/><path d="M539.8 237.9L543.6 246L542.9 255.9L539.8 267.1L538 273.3L543.6 274.6L547.3 262.2L549.2 249.7L546.1 241Z" fill="#fff"/><path d="M562.2 216.8Q568 220.6 572.2 224.2Q576.6 228 579.6 232.3Q582.6 237 584 242.3Q585.2 248 584.6 253.5Q583.8 259.6 581.5 264.6Q578.8 270.4 574.6 274.6Q570 278.6 564.7 280.2Q559.6 281.4 554.8 280.8Q550 279.4 546.1 277.1L540.5 274.6L543.6 274.6L547.3 262.2L549.2 249.7L546.1 241L540.5 236.1L562.2 216.8Z" fill="#fff" stroke-width="1.05"/><path d="M553.5 242.3Q550.4 253.5 552.3 267.1Q553.6 273 556 277.1M553.5 242.3L561.6 231.6M561.6 231.6Q570 226 577.6 230M548.4 240.6L553.5 242.3M556 277.1L564.7 280.2" fill="none" stroke-width="0.65"/><ellipse cx="571.2" cy="258.6" rx="12.2" ry="18.2" fill="#fff" stroke-width="0.8" transform="rotate(22 571.2 258.6)"/><ellipse cx="572" cy="258.8" rx="10.2" ry="16" fill="#fff" stroke-width="0.6" transform="rotate(22 572 258.8)"/><path d="M547.3 222.4L553.5 226.1L561 221.1L562.2 216.8L566 219.6L561.6 231.6L553.6 232.6L551.6 228.4" fill="#fff" stroke-width="0.65"/><path d="M530.5 229.8 L552.3 210.6 L562.2 216.8 L540.5 236.1Z" fill="#fff"/><path d="M530.5 229.8L531.1 231.7L539.8 237.9L540.5 236.1" fill="#fff" stroke-width="0.65"/><path d="M547.6 214.8L557.6 220.8" fill="none" stroke-width="0.6"/><ellipse cx="551.6" cy="218.6" rx="2.8" ry="2.5" fill="#fff" stroke-width="0.7"/><ellipse cx="551.8" cy="218.8" rx="1.7" ry="1.5" fill="#bbb" stroke-width="0.6"/><g transform="translate(223.6 91.6) rotate(98.5)"><path d="M0 -2 H38.4 Q39.3 0 38.4 2 H0Z" fill="#fff"/><path d="M27.3 -2L27.9 2M28.4 -2L29 2M29.4 -2L30 2M30.5 -2L31.1 2M31.5 -2L32.1 2M32.6 -2L33.2 2M33.6 -2L34.2 2M34.7 -2L35.3 2M35.7 -2L36.3 2M36.8 -2L37.4 2M37.8 -2L38.4 2" fill="none" stroke-width="0.5"/><ellipse cx="1.6" cy="0" rx="2.2" ry="5" fill="#fff"/><path d="M-2.6 -4.1 H1.4 V4.1 H-2.6 Z" fill="#fff"/><ellipse cx="-2.6" cy="0" rx="2" ry="4.1" fill="#fff"/><ellipse cx="-3" cy="0" rx="1.1" ry="2.4" fill="#fff" stroke-width="0.5"/><path d="M-2.4 -1.4H1.4M-2.4 1.4H1.4" fill="none" stroke-width="0.45"/></g><g transform="translate(209.1 110.2) rotate(98.3)"><path d="M0 -2 H16.8 Q17.7 0 16.8 2 H0Z" fill="#fff"/><path d="M8.7 -2L9.3 2M9.7 -2L10.3 2M10.8 -2L11.4 2M11.8 -2L12.4 2M12.9 -2L13.5 2M13.9 -2L14.5 2M15 -2L15.6 2M16 -2L16.6 2" fill="none" stroke-width="0.5"/><ellipse cx="1.6" cy="0" rx="2.2" ry="5" fill="#fff"/><path d="M-2.6 -4.1 H1.4 V4.1 H-2.6 Z" fill="#fff"/><ellipse cx="-2.6" cy="0" rx="2" ry="4.1" fill="#fff"/><ellipse cx="-3" cy="0" rx="1.1" ry="2.4" fill="#fff" stroke-width="0.5"/><path d="M-2.4 -1.4H1.4M-2.4 1.4H1.4" fill="none" stroke-width="0.45"/></g><g transform="translate(254.9 194.2) rotate(90.4)"><path d="M0 -2.5 H38 Q38.9 0 38 2.5 H0Z" fill="#fff"/><path d="M25.9 -2.5L26.5 2.5M26.9 -2.5L27.5 2.5M28 -2.5L28.6 2.5M29 -2.5L29.6 2.5M30.1 -2.5L30.7 2.5M31.1 -2.5L31.7 2.5M32.2 -2.5L32.8 2.5M33.2 -2.5L33.8 2.5M34.3 -2.5L34.9 2.5M35.3 -2.5L35.9 2.5M36.4 -2.5L37 2.5M37.4 -2.5L38 2.5" fill="none" stroke-width="0.5"/><ellipse cx="1.6" cy="0" rx="2.2" ry="5.2" fill="#fff"/><path d="M-2.8 -4.3 H1.4 V4.3 H-2.8 Z" fill="#fff"/><ellipse cx="-2.8" cy="0" rx="2.1" ry="4.3" fill="#fff"/><ellipse cx="-3.1" cy="0" rx="1.1" ry="2.5" fill="#fff" stroke-width="0.5"/><path d="M-2.5 -1.5H1.4M-2.5 1.5H1.4" fill="none" stroke-width="0.45"/></g><g transform="translate(324.2 92.6) rotate(27)"><path d="M0 -1.2 H10.6 Q11.5 0 10.6 1.2 H0Z" fill="#fff"/><path d="M3.4 -1.2L4 1.2M4.4 -1.2L5 1.2M5.5 -1.2L6.1 1.2M6.5 -1.2L7.1 1.2M7.6 -1.2L8.2 1.2M8.6 -1.2L9.2 1.2M9.7 -1.2L10.3 1.2M10.7 -1.2L11.3 1.2" fill="none" stroke-width="0.5"/><ellipse cx="1.6" cy="0" rx="1.6" ry="3.8" fill="#fff"/><path d="M-2 -3.1 H1.4 V3.1 H-2 Z" fill="#fff"/><ellipse cx="-2" cy="0" rx="1.5" ry="3.1" fill="#fff"/><ellipse cx="-2.2" cy="0" rx="0.8" ry="1.8" fill="#fff" stroke-width="0.5"/><path d="M-1.8 -1.1H1.4M-1.8 1.1H1.4" fill="none" stroke-width="0.45"/></g><g transform="translate(304.4 100.8) rotate(25.3)"><path d="M0 -1.2 H11.6 Q12.5 0 11.6 1.2 H0Z" fill="#fff"/><path d="M3.7 -1.2L4.3 1.2M4.7 -1.2L5.3 1.2M5.8 -1.2L6.4 1.2M6.8 -1.2L7.4 1.2M7.9 -1.2L8.5 1.2M8.9 -1.2L9.5 1.2M10 -1.2L10.6 1.2M11 -1.2L11.6 1.2" fill="none" stroke-width="0.5"/><ellipse cx="1.6" cy="0" rx="1.6" ry="3.8" fill="#fff"/><path d="M-2 -3.1 H1.4 V3.1 H-2 Z" fill="#fff"/><ellipse cx="-2" cy="0" rx="1.5" ry="3.1" fill="#fff"/><ellipse cx="-2.2" cy="0" rx="0.8" ry="1.8" fill="#fff" stroke-width="0.5"/><path d="M-1.8 -1.1H1.4M-1.8 1.1H1.4" fill="none" stroke-width="0.45"/></g><g transform="translate(439.6 306.2) rotate(-43)"><path d="M0 -1.4 H13.8 Q14.7 0 13.8 1.4 H0Z" fill="#fff"/><path d="M5.7 -1.4L6.3 1.4M6.8 -1.4L7.4 1.4M7.8 -1.4L8.4 1.4M8.9 -1.4L9.5 1.4M9.9 -1.4L10.5 1.4M11 -1.4L11.6 1.4M12 -1.4L12.6 1.4M13.1 -1.4L13.7 1.4" fill="none" stroke-width="0.5"/><ellipse cx="1.6" cy="0" rx="1.9" ry="4.4" fill="#fff"/><path d="M-2.3 -3.6 H1.4 V3.6 H-2.3 Z" fill="#fff"/><ellipse cx="-2.3" cy="0" rx="1.8" ry="3.6" fill="#fff"/><ellipse cx="-2.6" cy="0" rx="0.9" ry="2.1" fill="#fff" stroke-width="0.5"/><path d="M-2.1 -1.3H1.4M-2.1 1.3H1.4" fill="none" stroke-width="0.45"/></g><g transform="translate(540.2 117.5) rotate(135.7)"><path d="M0 -1.4 H17.9 Q18.8 0 17.9 1.4 H0Z" fill="#fff"/><path d="M7.4 -1.4L8 1.4M8.4 -1.4L9 1.4M9.5 -1.4L10.1 1.4M10.5 -1.4L11.1 1.4M11.6 -1.4L12.2 1.4M12.6 -1.4L13.2 1.4M13.7 -1.4L14.3 1.4M14.7 -1.4L15.3 1.4M15.8 -1.4L16.4 1.4M16.8 -1.4L17.4 1.4M17.9 -1.4L18.5 1.4" fill="none" stroke-width="0.5"/><ellipse cx="1.6" cy="0" rx="1.9" ry="4.5" fill="#fff"/><path d="M-2.4 -3.7 H1.4 V3.7 H-2.4 Z" fill="#fff"/><ellipse cx="-2.4" cy="0" rx="1.8" ry="3.7" fill="#fff"/><ellipse cx="-2.7" cy="0" rx="0.9" ry="2.1" fill="#fff" stroke-width="0.5"/><path d="M-2.1 -1.3H1.4M-2.1 1.3H1.4" fill="none" stroke-width="0.45"/></g><g transform="translate(537.8 178.6) rotate(90)"><path d="M0 -1.4 H8.4 Q9.3 0 8.4 1.4 H0Z" fill="#fff"/><path d="M3.6 -1.4L4.2 1.4M4.7 -1.4L5.2 1.4M5.7 -1.4L6.3 1.4M6.8 -1.4L7.3 1.4M7.8 -1.4L8.4 1.4" fill="none" stroke-width="0.5"/><path d="M-1.9 -3 H1.4 V3 H-1.9 Z" fill="#fff"/><ellipse cx="-1.9" cy="0" rx="1.5" ry="3" fill="#fff"/><ellipse cx="-2.2" cy="0" rx="0.8" ry="1.8" fill="#fff" stroke-width="0.5"/><path d="M-1.8 -1.1H1.4M-1.8 1.1H1.4" fill="none" stroke-width="0.45"/></g><g transform="translate(422.4 158.3) rotate(-149.3)"><path d="M0 -1.6 H16.6 Q17.5 0 16.6 1.6 H0Z" fill="#fff"/><path d="" fill="none" stroke-width="0.5"/><ellipse cx="1.6" cy="0" rx="2" ry="4.6" fill="#fff"/><path d="M-2.4 -3.8 H1.4 V3.8 H-2.4 Z" fill="#fff"/><ellipse cx="-2.4" cy="0" rx="1.8" ry="3.8" fill="#fff"/><ellipse cx="-2.7" cy="0" rx="1" ry="2.2" fill="#fff" stroke-width="0.5"/><path d="M-2.2 -1.3H1.4M-2.2 1.3H1.4" fill="none" stroke-width="0.45"/></g><g transform="translate(450.2 115.4) rotate(69.4)"><path d="M13.6 -1.7H19.6Q21 0 19.6 1.7H13.6Z" fill="#fff" stroke-width="0.7"/><path d="M3 -2.7H14V2.7H3Z" fill="#4f4d4e" stroke-width="0.7"/><path d="M4.2 -2.7V2.7M5.6 -2.7V2.7M7 -2.7V2.7M8.4 -2.7V2.7M9.8 -2.7V2.7M11.2 -2.7V2.7M12.6 -2.7V2.7" fill="none" stroke="#c9c8c8" stroke-width="0.4"/><path d="M-2.4 -3.3H3.2V3.3H-2.4Z" fill="#fff" stroke-width="0.8"/><ellipse cx="-2.4" cy="0" rx="1.7" ry="3.3" fill="#fff" stroke-width="0.8"/><ellipse cx="3.2" cy="0" rx="1" ry="3.3" fill="#bdbcbc" stroke-width="0.7"/><path d="M-2.6 -2V2M-3.4 0H-1.6" fill="none" stroke-width="0.6"/><path d="M-0.6 -3.2V3.2M1.2 -3.2V3.2" fill="none" stroke-width="0.5"/></g><ellipse cx="459" cy="139.8" rx="3.3" ry="1.9" fill="#fff" stroke="#474546" stroke-width="1.7" transform="rotate(-8 459 139.8)"/><ellipse cx="459" cy="139.8" rx="3.3" ry="1.9" fill="none" stroke="#bdbcbc" stroke-width="0.4" transform="rotate(-8 459 139.8)"/><ellipse cx="202.5" cy="212.1" rx="3.6" ry="2.6" fill="#fff" stroke="#474546" stroke-width="1.9" transform="rotate(-25 202.5 212.1)"/><ellipse cx="202.5" cy="212.1" rx="3.6" ry="2.6" fill="none" stroke="#bdbcbc" stroke-width="0.4" transform="rotate(-25 202.5 212.1)"/><ellipse cx="228.6" cy="259.5" rx="3.3" ry="3" fill="#fff" stroke="#474546" stroke-width="2.0" transform="rotate(-20 228.6 259.5)"/><ellipse cx="228.6" cy="259.5" rx="3.3" ry="3" fill="none" stroke="#bdbcbc" stroke-width="0.4" transform="rotate(-20 228.6 259.5)"/><ellipse cx="381.7" cy="134.6" rx="7.4" ry="9.6" fill="#fff" transform="rotate(18 381.7 134.6)"/><ellipse cx="381.7" cy="134.6" rx="6" ry="8.2" fill="#fff" transform="rotate(18 381.7 134.6)"/><ellipse cx="543.1" cy="193.6" rx="5.2" ry="3.7" fill="#fff" transform="rotate(-8 543.1 193.6)"/><ellipse cx="542.9" cy="193.2" rx="2.4" ry="1.6" fill="#fff" transform="rotate(-8 542.9 193.2)"/>
<g font-family="'Liberation Sans', Arial, sans-serif" font-size="8.7" fill="#3a3839" stroke="none">
<text x="204.6" y="93.7">21</text>
<text x="238.6" y="112">22</text>
<text x="149.5" y="165.5">14</text>
<text x="231.5" y="210">22</text>
<text x="181.8" y="215.6">16</text>
<text x="159.4" y="239.5">8</text>
<text x="204.6" y="262.9">9</text>
<text x="272.4" y="301.6">17</text>
<text x="217.6" y="309.9">13</text>
<text x="218.7" y="325.6">17</text>
<text x="301.1" y="262.9">12</text>
<text x="335.3" y="284.9">6</text>
<text x="387.2" y="242">2</text>
<text x="411.8" y="302.8">7</text>
<text x="435.6" y="326.2">20</text>
<text x="488.6" y="306">4</text>
<text x="302.4" y="95">19</text>
<text x="302.4" y="121.7">19</text>
<text x="343.3" y="177">10</text>
<text x="375.9" y="156">3</text>
<text x="380" y="190.8">11</text>
<text x="482.2" y="135">1</text>
<text x="556.4" y="121.2">23</text>
<text x="553.1" y="181.7">18</text>
<text x="567.8" y="199.2">15</text>
<text x="603.4" y="216.8">5</text>
</g>
<text x="166.6" y="114" font-family="'Liberation Sans', Arial, sans-serif" font-weight="bold" font-size="8.6" fill="#231f20" stroke="#231f20" stroke-width="0.35" textLength="19.8" lengthAdjust="spacingAndGlyphs">F-26</text>
<text x="600.6" y="339" font-family="'Liberation Sans', Arial, sans-serif" font-size="5.4" fill="#3a3839" stroke="none" textLength="33.8" lengthAdjust="spacingAndGlyphs">K1ABE2200</text>
<g transform="translate(114.2 335.4) rotate(-27)">
<path d="M0 0L7.4 -5.4V-2.6H19.4V2.6H7.4V5.4Z" fill="#231f20" stroke="none"/>
<text x="19.6" y="3.6" font-family="'Liberation Sans', Arial, sans-serif" font-weight="bold" font-style="italic" font-size="9.6" fill="#231f20" stroke="#231f20" stroke-width="0.4">FR.</text>
</g>
</g>
</svg>
</body>
</html>
